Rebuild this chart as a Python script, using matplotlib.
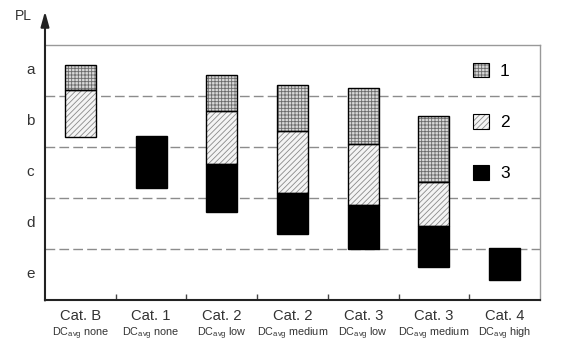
import numpy as np
import matplotlib.pyplot as plt
from matplotlib.patches import Rectangle

plt.rcParams['font.family'] = ['Liberation Sans', 'DejaVu Sans']
plt.rcParams['mathtext.fontset'] = 'custom'
plt.rcParams['mathtext.rm'] = 'Liberation Sans'
plt.rcParams['hatch.linewidth'] = 0.6

# categories along x
cats = ['Cat. B', 'Cat. 1', 'Cat. 2', 'Cat. 2', 'Cat. 3', 'Cat. 3', 'Cat. 4']
dc = ['none', 'none', 'low', 'medium', 'low', 'medium', 'high']
levels = ['e', 'd', 'c', 'b', 'a']

# segment 1 (grid pattern)
s1_lo = [4.11, np.nan, 3.71, 3.31, 3.06, 2.31, np.nan]
s1_hi = [4.61, np.nan, 4.41, 4.22, 4.15, 3.61, np.nan]
# segment 2 (diagonal hatch)
s2_lo = [3.20, np.nan, 2.66, 2.10, 1.86, 1.46, np.nan]
s2_hi = [4.11, np.nan, 3.71, 3.31, 3.06, 2.31, np.nan]
# segment 3 (black)
s3_lo = [np.nan, 2.20, 1.73, 1.29, 1.00, 0.65, 0.39]
s3_hi = [np.nan, 3.22, 2.66, 2.10, 1.86, 1.46, 1.01]

fig = plt.figure(figsize=(5.61, 3.62), dpi=100)
ax = fig.add_axes([0.0802, 0.1713, 0.8824, 0.7044])

x = np.arange(len(cats)) + 0.5
w = 0.44

styles = [
    (s1_lo, s1_hi, '#d8d8d8', '#6a6a6a', '+++++', '1'),
    (s2_lo, s2_hi, '#f4f4f4', '#8a8a8a', '//////', '2'),
    (s3_lo, s3_hi, 'black', 'black', None, '3'),
]
handles = []
for lo, hi, face, hc, hatch, lab in styles:
    lo = np.array(lo)
    hi = np.array(hi)
    ax.bar(x, hi - lo, bottom=lo, width=w, color=face, edgecolor=hc,
           hatch=hatch, linewidth=0, zorder=3)
    ax.bar(x, hi - lo, bottom=lo, width=w, fill=False, edgecolor='black',
           linewidth=1, zorder=4)
    h1 = Rectangle((0, 0), 1, 1, facecolor=face, edgecolor=hc, hatch=hatch, linewidth=0)
    h2 = Rectangle((0, 0), 1, 1, fill=False, edgecolor='black', linewidth=0.8)
    handles.append((h1, h2))

# dashed level boundaries
for yv in [1, 2, 3, 4]:
    ax.axhline(yv, color='#8c8c8c', lw=1, dashes=(7, 3), zorder=1)

ax.set_xlim(0, 7)
ax.set_ylim(0, 5)

ax.spines['top'].set_color('#999999')
ax.spines['right'].set_color('#999999')
ax.spines['top'].set_linewidth(1)
ax.spines['right'].set_linewidth(1)
ax.spines['bottom'].set_color('#222222')
ax.spines['bottom'].set_linewidth(1.5)
ax.spines['left'].set_visible(False)

ax.annotate('', xy=(0, 5.66), xytext=(0, -0.01), annotation_clip=False,
            arrowprops=dict(arrowstyle='-|>,head_length=0.9,head_width=0.25',
                            color='#222222', lw=1.5, shrinkA=0, shrinkB=0))
ax.text(-0.30, 5.57, 'PL', ha='center', va='center', fontsize=10, color='#333333')

ax.set_xticks(np.arange(1, 7))
ax.set_xticklabels([])
ax.set_yticks([])
ax.tick_params(axis='x', direction='in', length=4.5, width=1, color='#444444')

for i, lv in enumerate(levels):
    ax.text(-0.21, i + 0.5, lv, ha='center', va='center', fontsize=11, color='#333333')

for xi, c, d in zip(x, cats, dc):
    ax.text(xi, -0.31, c, ha='center', va='center', fontsize=10.6, color='#333333')
    ax.text(xi, -0.67, r'DC$_{\mathregular{avg}}$ ' + d, ha='center', va='center',
            fontsize=7.8, color='#333333')

ax.legend(handles, ['1', '2', '3'], loc='upper left', bbox_to_anchor=(0.865, 0.93),
          frameon=False, fontsize=12.5, handlelength=0.92, handleheight=0.92,
          handletextpad=0.63, labelspacing=2.0, borderpad=0, borderaxespad=0)

fig.savefig('out.png', dpi=100)
